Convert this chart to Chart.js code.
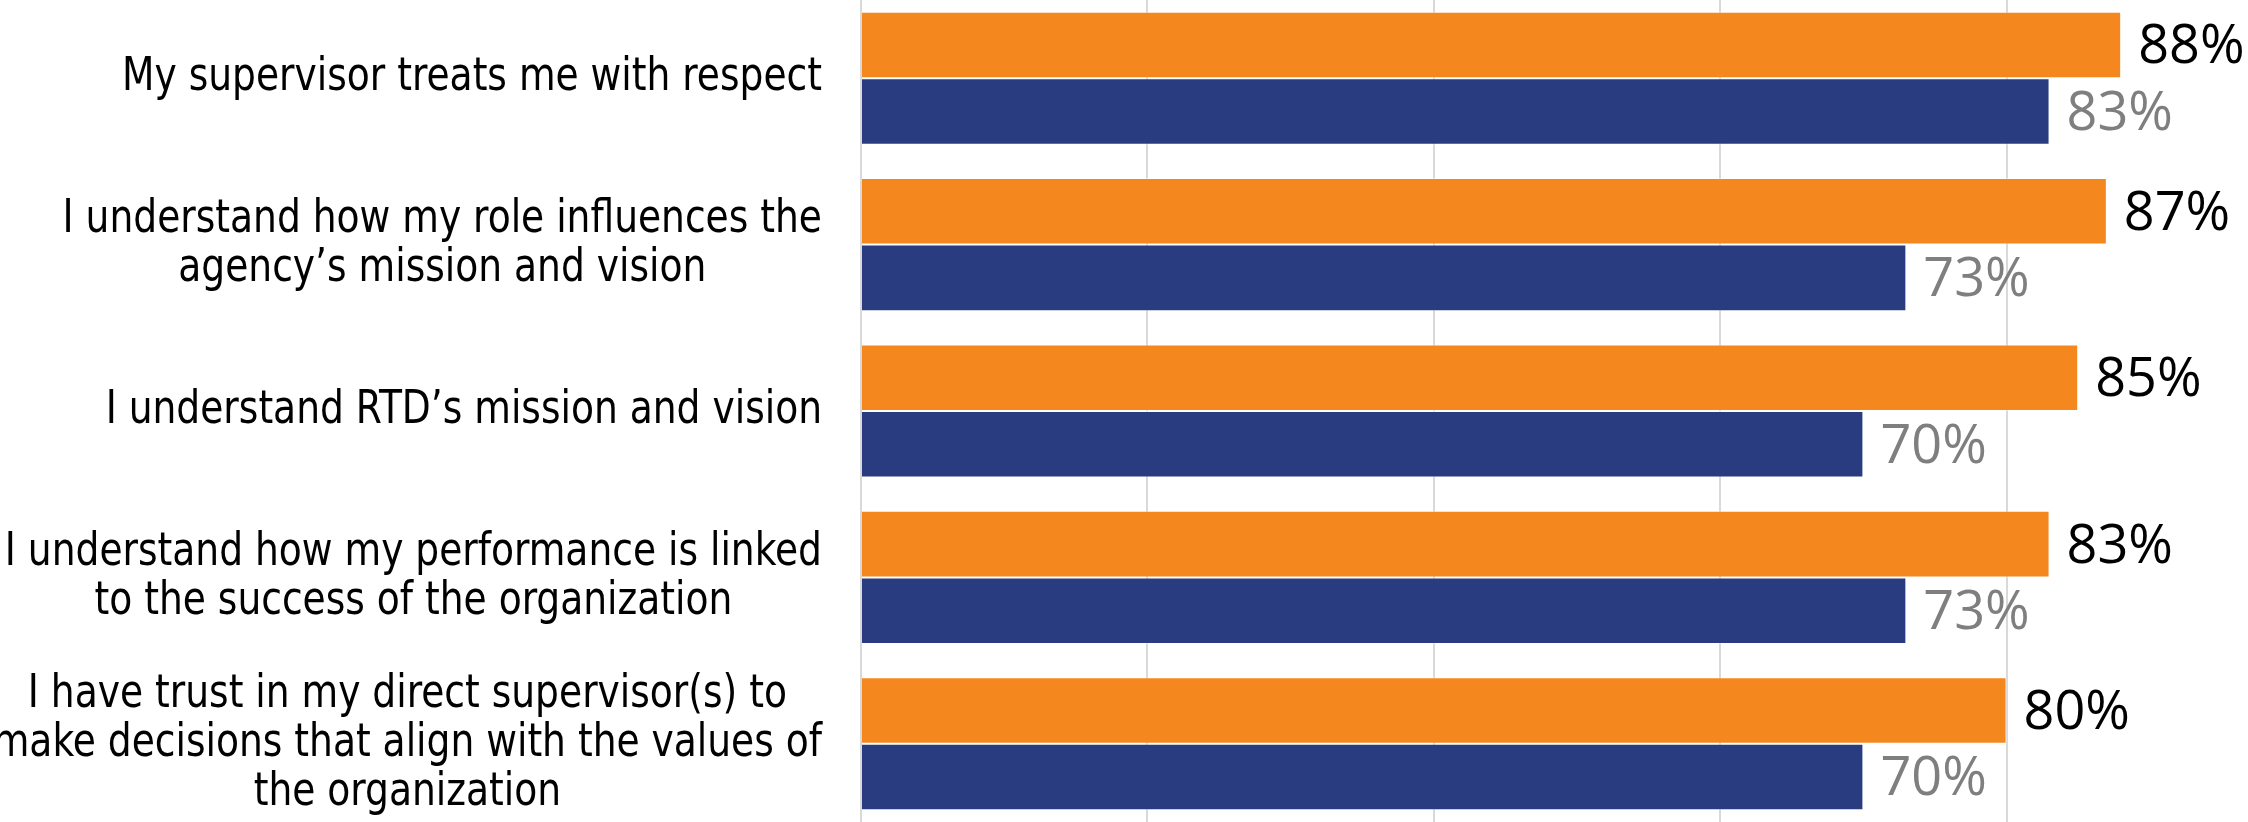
<!DOCTYPE html>
<html>
<head>
<meta charset="utf-8">
<script src="https://cdn.jsdelivr.net/npm/chart.js@4"></script>
<style>
  html,body{margin:0;padding:0;background:#fff;overflow:hidden;width:2248px;height:822px;}
  #wrap{position:absolute;left:0;top:-5px;}
</style>
</head>
<body>
<div id="wrap"><canvas id="chart" width="2293" height="832"></canvas></div>
<script>
// ── survey bars: two series per statement, value labels at bar ends ──

const categories = [
  ['My supervisor treats me with respect'],
  ['I understand how my role influences the', 'agency’s mission and vision'],
  ['I understand RTD’s mission and vision'],
  ['I understand how my performance is linked', 'to the success of the organization'],
  ['I have trust in my direct supervisor(s) to', 'make decisions that align with the values of', 'the organization'],
];
const seriesCurrent  = [88, 87, 85, 83, 80];
const seriesPrevious = [83, 73, 70, 73, 70];
const xTicks = [0, 20, 40, 60, 80, 100];

const ORANGE = '#F5871F';
const NAVY   = '#283C7F';

// category labels (right-aligned block, lines centred) + value labels
const textPlugin = {
  id: 'textPlugin',
  afterDraw(chart){
    const ctx = chart.ctx;
    const ys = chart.scales.y;
    ctx.save();
    ctx.font = '47px "DejaVu Sans Condensed", "DejaVu Sans", sans-serif';
    const sx = 700 / ctx.measureText(categories[0][0]).width;
    const right = ys.right - 39;
    ctx.fillStyle = '#000';
    ctx.textBaseline = 'middle';
    ctx.textAlign = 'center';
    categories.forEach((lines, i)=>{
      const cy = ys.getPixelForValue(i);
      const w = Math.max(...lines.map(l=>ctx.measureText(l).width)) * sx;
      const cx = right - w/2;
      lines.forEach((l, j)=>{
        const ly = cy + (j - (lines.length-1)/2) * 48.7;
        ctx.save();
        ctx.translate(cx, ly);
        ctx.scale(sx, 1);
        ctx.fillText(l, 0, 0);
        ctx.restore();
      });
    });

    ctx.font = '54px "Open Sans", sans-serif';
    ctx.textAlign = 'left';
    chart.data.datasets.forEach((ds, di)=>{
      ctx.fillStyle = di === 0 ? '#000' : '#7f7f7f';
      chart.getDatasetMeta(di).data.forEach((bar, i)=>{
        ctx.fillText(ds.data[i] + '%', bar.x + 17, bar.y + 3);
      });
    });
    ctx.restore();
  }
};

new Chart(document.getElementById('chart').getContext('2d'), {
  type: 'bar',
  data: {
    labels: categories,
    datasets: [
      {label: 'Current',  data: seriesCurrent,  backgroundColor: ORANGE, borderColor: 'rgba(255,255,255,0.45)', borderWidth: 1, borderSkipped: 'start'},
      {label: 'Previous', data: seriesPrevious, backgroundColor: NAVY,   borderColor: 'rgba(255,255,255,0.45)', borderWidth: 1, borderSkipped: 'start'},
    ]
  },
  options: {
    indexAxis: 'y',
    responsive: false,
    animation: false,
    layout: {padding: 0},
    datasets: {bar: {barPercentage: 1, categoryPercentage: 0.8}},
    plugins: {legend: {display: false}, tooltip: {enabled: false}},
    scales: {
      x: {
        min: 0, max: 100,
        afterBuildTicks: s => { s.ticks = xTicks.map(v=>({value: v})); },
        afterFit: s => { s.height = 0; },
        ticks: {display: false},
        grid: {color: '#d9d9d9', lineWidth: 2, drawTicks: false},
        border: {display: false},
      },
      y: {
        afterFit: s => { s.width = 861; },
        ticks: {display: false},
        grid: {display: false, drawTicks: false},
        border: {display: false},
      }
    }
  },
  plugins: [textPlugin]
});
</script>
</body>
</html>
